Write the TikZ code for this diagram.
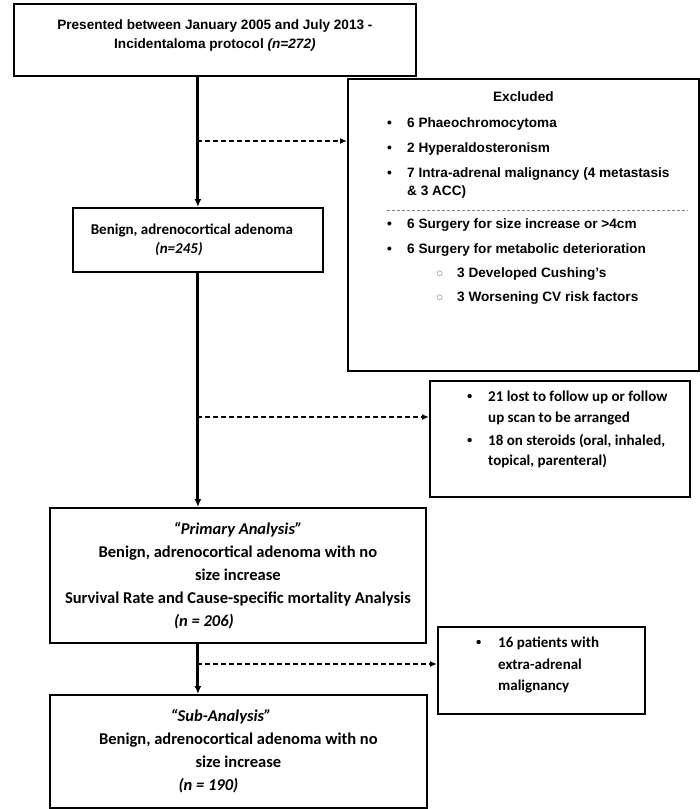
\documentclass[tikz,border=0pt]{standalone}
\usepackage{fontspec}
\setmainfont{Carlito}
\newfontfamily\arialfont{Liberation Sans}
\usetikzlibrary{positioning,arrows.meta}

\newcommand{\cfont}{\bfseries\fontsize{15}{19}\selectfont}
\newcommand{\bigcfont}{\bfseries\fontsize{16.5}{23}\selectfont}
\newcommand{\afont}{\arialfont\bfseries\fontsize{13.6}{19}\selectfont}
\newcommand{\smallbullet}{{\arialfont\textbullet}}

\tikzset{
  box/.style={rectangle,draw,line width=1.8pt,inner sep=2pt,align=center,anchor=north west},
  list/.style={inner sep=0pt,align=left,anchor=north west},
  flow/.style={-{Latex[length=8pt,width=7pt]},line width=3pt},
  side/.style={-{Latex[length=7pt,width=6pt]},line width=1.8pt,dash pattern=on 5pt off 3pt},
  sepline/.style={gray,line width=0.8pt,dash pattern=on 3pt off 2pt},
}

\begin{document}
\begin{tikzpicture}[x=1pt,y=-1pt]
\useasboundingbox (0,0) rectangle (700,809);

% left column
\node[box,minimum width=402,minimum height=72,font=\afont] (start) at (13,3) {Presented between January 2005 and July 2013 -\\Incidentaloma protocol \textit{(n=272)}\\[-8pt]\mbox{}};
\node[box,minimum width=250,minimum height=64,font=\cfont] (benign) at (72,207) {Benign, adrenocortical adenoma\hspace*{12pt}\\\textit{(n=245)}\hspace*{38pt}};
\node[box,minimum width=376,minimum height=135,font=\bigcfont] (primary) at (49,507) {\textit{“Primary Analysis”}\\Benign, adrenocortical adenoma with no\\size increase\hspace*{58pt}\\Survival Rate and Cause-specific mortality Analysis\\\textit{(n = 206)}\hspace*{68pt}};
\node[box,minimum width=377,minimum height=113,font=\bigcfont] (sub) at (49,694) {\textit{“Sub-Analysis”}\hspace*{35pt}\\Benign, adrenocortical adenoma with no\\size increase\hspace*{50pt}\\\textit{(n = 190)}\hspace*{60pt}};

% right column
\node[box,minimum width=351,minimum height=292] (excl) at (347,78) {};
\node[font=\afont,inner sep=0pt,below=13pt of excl.north] (exclhead) {Excluded};
\node[list,font=\arialfont\bfseries\fontsize{13.6}{18}\selectfont] (excllist) at (387,117) {%
\makebox[20pt][l]{\textbullet}6 Phaeochromocytoma\\[7pt]
\makebox[20pt][l]{\textbullet}2 Hyperaldosteronism\\[7pt]
\makebox[20pt][l]{\textbullet}7 Intra-adrenal malignancy (4 metastasis\\
\hspace*{20pt}\& 3 ACC)\\[15pt]
\makebox[20pt][l]{\textbullet}6 Surgery for size increase or >4cm\\[7pt]
\makebox[20pt][l]{\textbullet}6 Surgery for metabolic deterioration\\[6pt]
\hspace*{49pt}\makebox[21pt][l]{\color{gray}$\circ$}3 Developed Cushing’s\\[6pt]
\hspace*{49pt}\makebox[21pt][l]{\color{gray}$\circ$}3 Worsening CV risk factors};
\draw[sepline] (387,210) -- (688,210);

\node[box,minimum width=260,minimum height=116] (lost) at (429,380) {};
\node[list,font=\bfseries\fontsize{15}{20.5}\selectfont] (lostlist) at (467,391) {%
\makebox[21pt][l]{\smallbullet}21 lost to follow up or follow\\
\hspace*{21pt}up scan to be arranged\\[2.5pt]
\makebox[21pt][l]{\smallbullet}18 on steroids (oral, inhaled,\\
\hspace*{21pt}topical, parenteral)};

\node[box,minimum width=207,minimum height=87] (extra) at (437,626) {};
\node[list,font=\bfseries\fontsize{15}{21.5}\selectfont] (extralist) at (476,637) {%
\makebox[22pt][l]{\smallbullet}16 patients with\\
\hspace*{22pt}extra-adrenal\\
\hspace*{22pt}malignancy};

% connectors
\coordinate (d1) at (197,141);
\coordinate (d2) at (197,417);
\coordinate (d3) at (197,664);

\draw[flow] (start.south -| benign.north) -- (benign.north);
\draw[flow] (benign.south) -- (benign.south |- primary.north);
\draw[flow] (benign.south |- primary.south) -- (benign.south |- sub.north);

\draw[side] (d1) -- (d1 -| excl.west);
\draw[side] (d2) -- (d2 -| lost.west);
\draw[side] (d3) -- (d3 -| extra.west);

\end{tikzpicture}
\end{document}
